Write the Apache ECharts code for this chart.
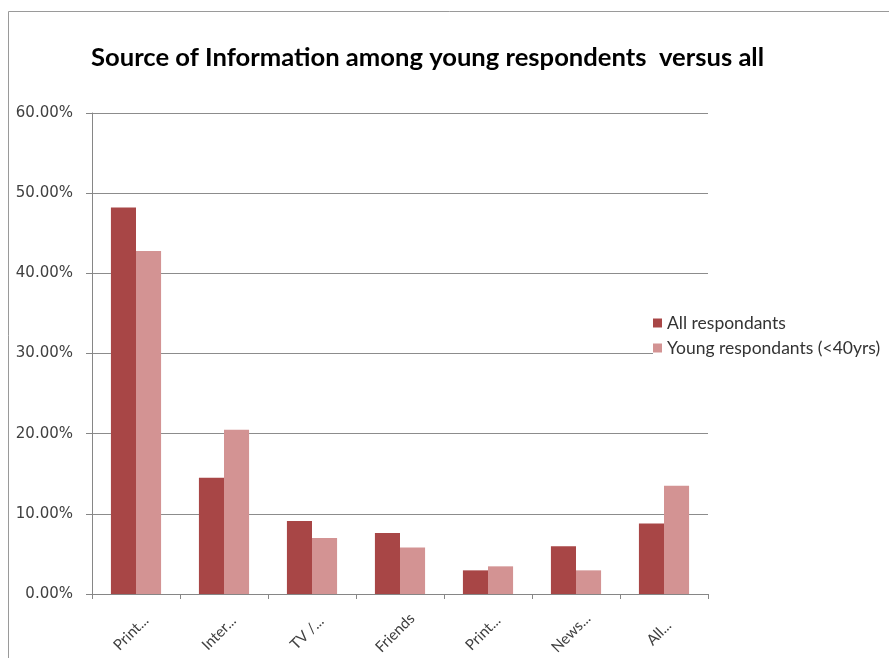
<!DOCTYPE html>
<html>
<head>
<meta charset="utf-8">
<script src="https://cdn.jsdelivr.net/npm/echarts@6/dist/echarts.min.js"></script>
<style>html,body{margin:0;padding:0;background:#fff;}#c{width:889px;height:658px;}</style>
</head>
<body>
<div id="c"></div>
<script>
const categories = ['Print...', 'Inter...', 'TV /...', 'Friends', 'Print...', 'News...', 'All...'];
const allRespondants = [48.2, 14.5, 9.1, 7.6, 2.95, 5.95, 8.8];
const youngRespondants = [42.8, 20.5, 7.0, 5.8, 3.45, 2.95, 13.5];
const seriesNames = ['All respondants', 'Young respondants (<40yrs)'];
const yTicks = { min: 0, max: 60, interval: 10 };

const chart = echarts.init(document.getElementById('c'), null, { renderer: 'canvas' });
chart.setOption({
  animation: false,
  backgroundColor: '#fff',
  title: {
    text: 'Source of Information among young respondents  versus all',
    left: 86, top: 40,
    textStyle: { fontFamily: 'Lato', fontWeight: 'bold', fontSize: 25.6, color: '#000' }
  },
  graphic: [{
    type: 'rect', shape: { x: 8.5, y: 11.5, width: 1000, height: 1000 },
    style: { fill: 'none', stroke: '#9a9a9a', lineWidth: 1 }, silent: true
  }],
  legend: {
    orient: 'vertical', left: 653, top: 310,
    padding: [4, 4, 4, 0], backgroundColor: '#fff',
    itemWidth: 9, itemHeight: 9, itemGap: 7,
    icon: 'rect',
    textStyle: { fontFamily: 'Lato', fontSize: 17.5, color: '#333', padding: [0, 0, 0, 0] },
    data: seriesNames
  },
  grid: { left: 92, right: 181, top: 113, bottom: 64, containLabel: false },
  xAxis: {
    type: 'category', data: categories,
    axisLine: { lineStyle: { color: '#868686' } },
    axisTick: { show: true, length: 5, lineStyle: { color: '#868686' } },
    axisLabel: { rotate: 45, align: 'center', verticalAlign: 'middle', padding: [0, 14, 0, 0],
      fontFamily: 'Lato', fontSize: 15, color: '#404040', margin: 34, interval: 0 }
  },
  yAxis: {
    type: 'value', min: yTicks.min, max: yTicks.max, interval: yTicks.interval,
    axisLine: { show: true, lineStyle: { color: '#868686' } },
    axisTick: { show: true, length: 6, lineStyle: { color: '#868686' } },
    splitLine: { lineStyle: { color: '#8c8c8c', width: 1 } },
    axisLabel: { formatter: v => v.toFixed(2) + '%', fontFamily: 'DejaVu Sans', fontSize: 15, color: '#404040', margin: 19 }
  },
  series: [
    { name: seriesNames[0], type: 'bar', data: allRespondants, barGap: 0, barCategoryGap: '43%', itemStyle: { color: '#A84646' } },
    { name: seriesNames[1], type: 'bar', data: youngRespondants, barGap: 0, barCategoryGap: '43%', itemStyle: { color: '#D39393' } }
  ]
});
</script>
</body>
</html>
